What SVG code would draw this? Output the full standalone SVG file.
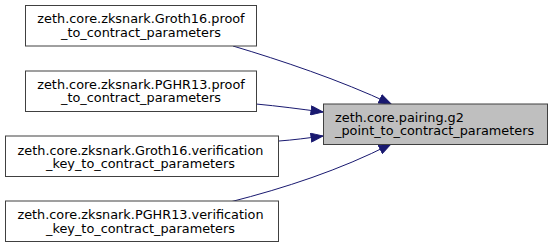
<svg xmlns="http://www.w3.org/2000/svg" width="553" height="248" viewBox="0 0 553 248">
  <style>
    .node rect { fill: #ffffff; stroke: #404040; stroke-width: 1; }
    .node.target rect { fill: #bfbfbf; stroke: #404040; }
    .node text { font-family: "DejaVu Sans", sans-serif; font-size: 12.85px; fill: #000000; }
    .edge { fill: none; stroke: #191970; stroke-width: 1; }
  </style>
  <defs>
    <marker id="arrow" viewBox="0 0 13 10" refX="12.5" refY="5" markerWidth="13" markerHeight="10" markerUnits="userSpaceOnUse" orient="auto">
      <path d="M0.5,0.5 L12.5,5 L0.5,9.5 Z" fill="#191970" stroke="#191970" stroke-width="1"/>
    </marker>
  </defs>

  <g id="connectors">
    <path class="edge" marker-end="url(#arrow)" d="M233,46 C280,60 340,80 391,104"/>
    <path class="edge" marker-end="url(#arrow)" d="M256,104 C278,106 300,109 323,112"/>
    <path class="edge" marker-end="url(#arrow)" d="M279,141 C293,140 308,138 323,136"/>
    <path class="edge" marker-end="url(#arrow)" d="M230,202 C285,188 340,170 391,144"/>
  </g>

  <g id="node-groth16-proof" class="node">
    <rect x="25.5" y="5.5" width="231" height="40.5"/>
    <text x="141" y="23" text-anchor="middle">zeth.core.zksnark.Groth16.proof</text>
    <text x="141" y="36.5" text-anchor="middle">_to_contract_parameters</text>
  </g>

  <g id="node-pghr13-proof" class="node">
    <rect x="25.5" y="71" width="231" height="40.5"/>
    <text x="141" y="88.5" text-anchor="middle">zeth.core.zksnark.PGHR13.proof</text>
    <text x="141" y="102" text-anchor="middle">_to_contract_parameters</text>
  </g>

  <g id="node-groth16-vk" class="node">
    <rect x="5.5" y="136" width="273" height="40.5"/>
    <text x="140.5" y="154.5" text-anchor="middle">zeth.core.zksnark.Groth16.verification</text>
    <text x="140.5" y="168" text-anchor="middle">_key_to_contract_parameters</text>
  </g>

  <g id="node-pghr13-vk" class="node">
    <rect x="5.5" y="201" width="273" height="40.5"/>
    <text x="140.5" y="219" text-anchor="middle">zeth.core.zksnark.PGHR13.verification</text>
    <text x="140.5" y="232.5" text-anchor="middle">_key_to_contract_parameters</text>
  </g>

  <g id="node-g2-point" class="node target">
    <rect x="323.5" y="104" width="224" height="40.5"/>
    <text x="335" y="121.5">zeth.core.pairing.g2</text>
    <text x="335" y="135">_point_to_contract_parameters</text>
  </g>
</svg>
